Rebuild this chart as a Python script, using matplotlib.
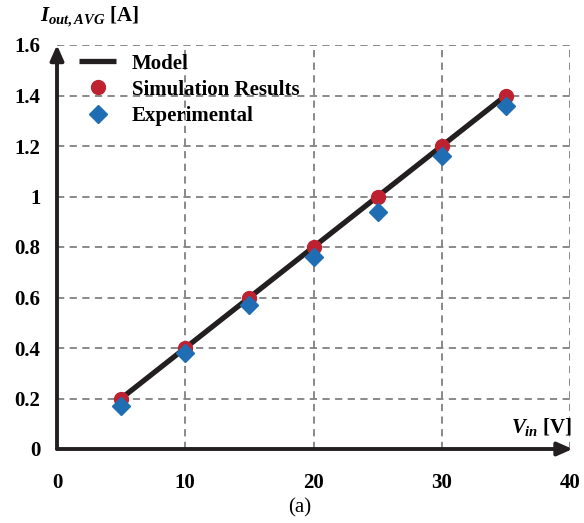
import numpy as np
import matplotlib
matplotlib.use("Agg")
import matplotlib.pyplot as plt

plt.rcParams['font.family'] = 'Liberation Serif'
plt.rcParams['mathtext.fontset'] = 'custom'
plt.rcParams['mathtext.it'] = 'Liberation Serif:italic:bold'
plt.rcParams['mathtext.rm'] = 'Liberation Serif:bold'
plt.rcParams['mathtext.bf'] = 'Liberation Serif:bold'

# Data
vin = [5, 10, 15, 20, 25, 30, 35]
model = [0.2, 0.4, 0.6, 0.8, 1.0, 1.2, 1.4]
simulation = [0.2, 0.4, 0.6, 0.8, 1.0, 1.2, 1.4]
experimental = [0.17, 0.38, 0.57, 0.76, 0.94, 1.16, 1.36]
xticks = [0, 10, 20, 30, 40]
yticks = [0, 0.2, 0.4, 0.6, 0.8, 1, 1.2, 1.4, 1.6]
ytick_labels = ['0', '0.2', '0.4', '0.6', '0.8', '1', '1.2', '1.4', '1.6']

fig = plt.figure(figsize=(5.84, 5.23), dpi=100)
ax = fig.add_axes([57/584, 74/523, 513/584, 404/523])

ax.plot(vin, model, color='#231F20', lw=3.8, label='Model', zorder=3, solid_capstyle='butt')
ax.plot(vin, simulation, 'o', color='#BE2230', ms=10, label='Simulation Results', zorder=4)
ax.plot(vin, experimental, 'D', color='#1F6EB4', ms=9.5, label='Experimental', zorder=5)

ax.set_xlim(0, 40)
ax.set_ylim(0, 1.6)
ax.set_xticks(xticks)
ax.set_yticks(yticks)
ax.set_yticklabels(ytick_labels)
for lab in ax.get_xticklabels() + ax.get_yticklabels():
    lab.set_fontweight('bold')
ax.tick_params(axis='x', length=0, pad=17, labelsize=15)
ax.tick_params(axis='y', length=0, pad=12, labelsize=15)

ax.grid(True, color='#808080', ls=(0, (4, 3)), lw=1.3)
for s in ax.spines.values():
    s.set_visible(False)

# axis arrows
ax.annotate('', xy=(0, 1.6), xytext=(0, 0), annotation_clip=False,
            arrowprops=dict(arrowstyle='-|>,head_length=0.9,head_width=0.4', color='#231F20', lw=2.8, shrinkA=0, shrinkB=0))
ax.annotate('', xy=(40.2, 0), xytext=(0, 0), annotation_clip=False,
            arrowprops=dict(arrowstyle='-|>,head_length=0.9,head_width=0.4', color='#231F20', lw=2.8, shrinkA=0, shrinkB=0))

# axis labels
fig.text(40/584, 1 - 17/523, r'$I_{out,AVG}$ [A]', fontsize=15, fontweight='bold', va='center', ha='left')
fig.text(572/584, 1 - 427/523, r'$V_{in}$ [V]', fontsize=15, fontweight='bold', va='center', ha='right')
fig.text(300/584, 1 - 508/523, '(a)', fontsize=15, va='center', ha='center')

leg = ax.legend(loc='upper left', bbox_to_anchor=(0.014, 1.015), frameon=False,
                prop={'weight': 'bold', 'size': 15}, handlelength=1.8,
                labelspacing=0.3, handletextpad=0.75, borderaxespad=0.3)

fig.savefig('out.png', dpi=100)
